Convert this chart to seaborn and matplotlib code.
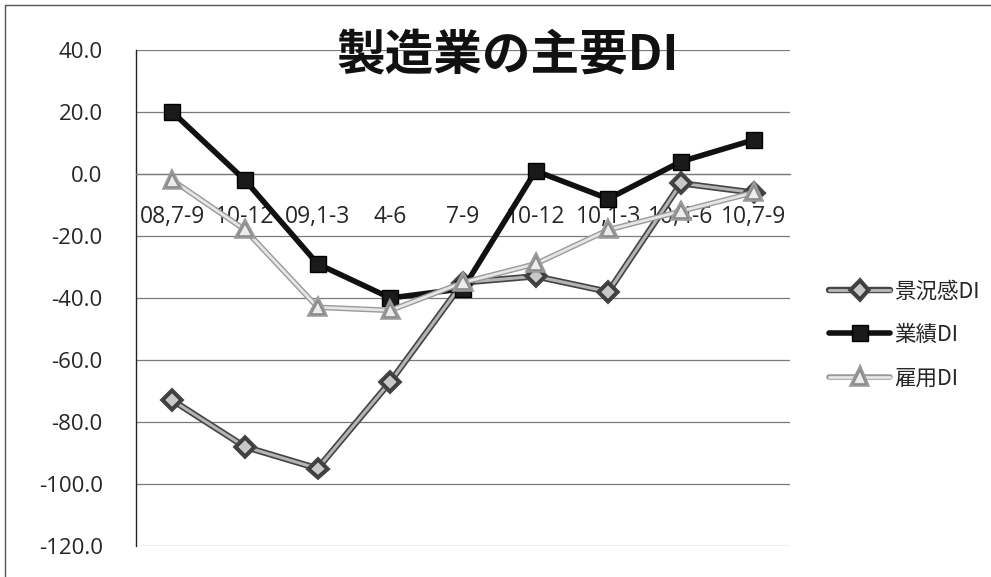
import matplotlib
matplotlib.use("Agg")
import matplotlib.pyplot as plt
import matplotlib.patheffects as pe
from matplotlib.lines import Line2D
import seaborn as sns
import pandas as pd

# Quarterly periods and the three diffusion indices
periods = ["08,7-9", "10-12", "09,1-3", "4-6", "7-9", "10-12", "10,1-3", "10,4-6", "10,7-9"]
keikyo_di = [-73, -88, -95, -67, -35, -33, -38, -3, -6]
gyoseki_di = [20, -2, -29, -40, -37, 1, -8, 4, 11]
koyo_di = [-2, -18, -43, -44, -35, -29, -18, -12, -6]

y_ticks = [40, 20, 0, -20, -40, -60, -80, -100, -120]
title = "製造業の主要DI"
names = ["景況感DI", "業績DI", "雇用DI"]

sns.set_theme(style="white")
plt.rcParams["font.family"] = ["Open Sans", "Noto Sans CJK JP", "DejaVu Sans"]

df = pd.DataFrame({
    "pos": list(range(len(periods))),
    "keikyo": keikyo_di,
    "gyoseki": gyoseki_di,
    "koyo": koyo_di,
})

fig = plt.figure(figsize=(9.91, 5.77), dpi=100)
ax = fig.add_axes([136 / 991, 1 - 546 / 577, 654 / 991, 496 / 577])

# 景況感DI: outlined gray line with diamonds
sns.lineplot(data=df, x="pos", y="keikyo", ax=ax, label=names[0],
             color="#b4b4b4", linewidth=2.2, marker="D", markersize=8,
             markerfacecolor="#c8c8c8", markeredgecolor="#3c3c3c", markeredgewidth=1.3,
             path_effects=[pe.Stroke(linewidth=4.6, foreground="#444444"), pe.Normal()],
             zorder=3)
# 業績DI: heavy black line with squares
sns.lineplot(data=df, x="pos", y="gyoseki", ax=ax, label=names[1],
             color="#111111", linewidth=4.0, marker="s", markersize=11,
             markerfacecolor="#1a1a1a", markeredgecolor="#000000", markeredgewidth=1,
             zorder=4)
# 雇用DI: light outlined line with triangles
sns.lineplot(data=df, x="pos", y="koyo", ax=ax, label=names[2],
             color="#e6e6e6", linewidth=2.0, marker="^", markersize=9.5,
             markerfacecolor="#ececec", markeredgecolor="#8a8a8a", markeredgewidth=1.2,
             path_effects=[pe.Stroke(linewidth=4.0, foreground="#9a9a9a"), pe.Normal()],
             zorder=5)

# the category axis crosses the value axis at zero
for side in ["top", "right"]:
    ax.spines[side].set_visible(False)
ax.spines["bottom"].set_position(("data", 0))
ax.spines["bottom"].set_color("#7a7a7a")
ax.spines["bottom"].set_linewidth(0.9)
ax.spines["left"].set_color("#222222")
ax.spines["left"].set_linewidth(1.0)

ax.set_xlim(-0.5, len(periods) - 0.5)
ax.set_ylim(-120, 40)
ax.set_yticks(y_ticks)
ax.set_yticklabels([f"{v:.1f}" for v in y_ticks], fontsize=16)
ax.set_xticks(range(len(periods)))
ax.set_xticklabels(periods, fontsize=16.5)
ax.set_xlabel("")
ax.set_ylabel("")

ax.yaxis.grid(True, color="#7a7a7a", linewidth=0.9)
ax.xaxis.grid(False)
ax.set_axisbelow(True)
ax.tick_params(axis="y", length=0, pad=24)
ax.tick_params(axis="x", length=0, pad=22)

ax.text(0.569, 0.99, title, transform=ax.transAxes, ha="center", va="center",
        fontsize=35, fontweight="bold", family=["Noto Sans CJK JP", "DejaVu Sans"],
        color="#111111", zorder=6)

leg = ax.legend(loc="center left", bbox_to_anchor=(810 / 991, 1 - 335 / 577),
                bbox_transform=fig.transFigure, frameon=False,
                handlelength=2.8, handletextpad=0.2, labelspacing=1.0,
                prop={"family": ["Noto Sans CJK JP", "DejaVu Sans"], "size": 15.5})

# chart frame along the top and left edges
fig.add_artist(Line2D([5 / 991, 1], [1 - 5 / 577, 1 - 5 / 577], transform=fig.transFigure,
                      color="#555555", linewidth=1.0))
fig.add_artist(Line2D([5 / 991, 5 / 991], [0, 1 - 5 / 577], transform=fig.transFigure,
                      color="#555555", linewidth=1.0))

fig.savefig("out.png", dpi=100)
